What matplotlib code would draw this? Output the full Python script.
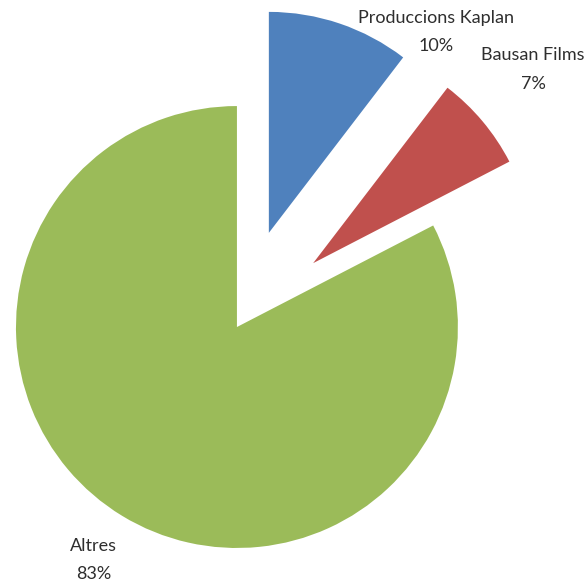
import matplotlib
matplotlib.use("Agg")
import matplotlib.pyplot as plt

categories = ["Produccions Kaplan", "Bausan Films", "Altres"]
values = [10.4, 7.0, 82.6]
colors = ["#4F81BD", "#C0504D", "#9BBB59"]
explode = [0.45, 0.45, 0.0]

fig = plt.figure(figsize=(5.87, 5.84), dpi=100)
ax = fig.add_axes([0, 0, 1, 1])
wedges, texts = ax.pie(values, colors=colors, explode=explode, startangle=90,
                       counterclock=False, radius=1.0,
                       wedgeprops=dict(linewidth=0))
ax.set_aspect("equal")
ax.set_xlim(-1.072, 1.584)
ax.set_ylim(-1.163, 1.480)
ax.axis("off")

total = sum(values)
label_pos = [(0.900, 1.335), (1.340, 1.165), (-0.650, -1.055)]
for cat, v, (x, y) in zip(categories, values, label_pos):
    ax.text(x, y, f"{cat}\n{round(v / total * 100):.0f}%", ha="center", va="center",
            fontsize=13, family="Lato", color="#2e2e2e", linespacing=1.95)

fig.savefig("out.png", dpi=100)
